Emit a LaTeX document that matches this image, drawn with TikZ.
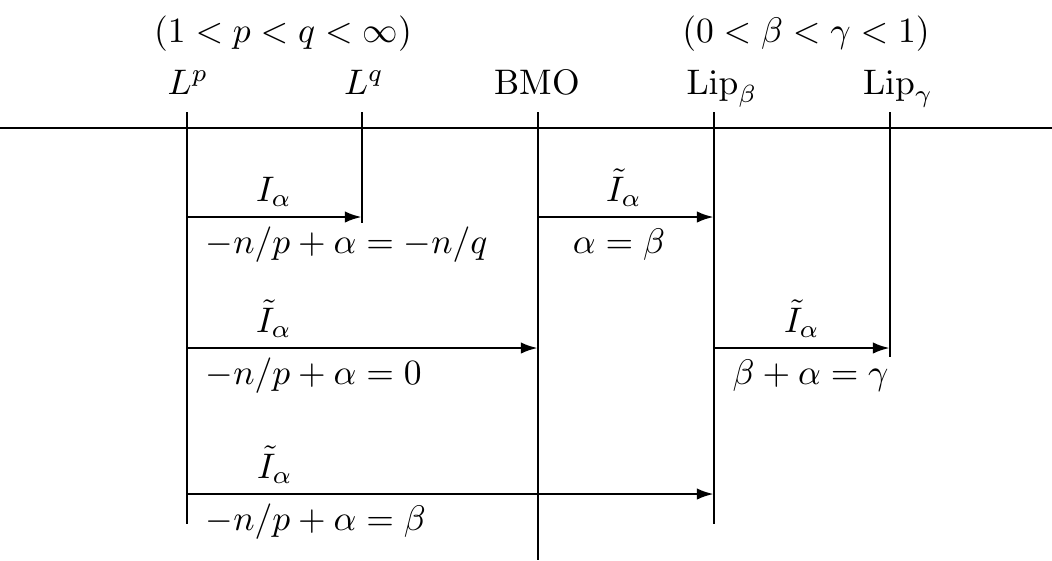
\documentclass[tikz,border=0pt]{standalone}
\usetikzlibrary{arrows.meta}
\begin{document}
\begin{tikzpicture}[x=0.2817pt,y=-0.2817pt,
  axis/.style={line width=0.8pt},
  arr/.style={line width=0.8pt,-{Latex[length=4.8pt,width=3.2pt]}},
  lbl/.style={anchor=base,inner sep=0pt},
  lblw/.style={anchor=base west,inner sep=0pt}]
\useasboundingbox (0,0) rectangle (1052,560);
% horizontal axis
\coordinate (hl) at (0,128);
\coordinate (hr) at (1052,128);
\draw[axis] (hl) -- (hr);
% vertical lines
\coordinate (Lpt) at (187,112);  \coordinate (Lpb) at (187,524);
\coordinate (Lqt) at (362,112);  \coordinate (Lqb) at (362,223);
\coordinate (Bt) at (538,112);   \coordinate (Bb) at (538,560);
\coordinate (Lbt) at (714,112);  \coordinate (Lbb) at (714,524);
\coordinate (Lgt) at (890,112);  \coordinate (Lgb) at (890,357);
\draw[axis] (Lpt) -- (Lpb);
\draw[axis] (Lqt) -- (Lqb);
\draw[axis] (Bt) -- (Bb);
\draw[axis] (Lbt) -- (Lbb);
\draw[axis] (Lgt) -- (Lgb);
% top labels
\node[lbl] (cp) at (283,42) {$(1<p<q<\infty)$};
\node[lbl] (cb) at (806,42) {$(0<\beta<\gamma<1)$};
\node[lbl] (nLp) at (188,94) {$L^p$};
\node[lbl] (nLq) at (364,94) {$L^q$};
\node[lbl] (nB) at (537,94) {BMO};
\node[lbl] (nLb) at (722,94) {$\mathrm{Lip}_\beta$};
\node[lbl] (nLg) at (898,94) {$\mathrm{Lip}_\gamma$};
% row 1
\coordinate (a1) at (187,217); \coordinate (b1) at (362,217);
\draw[arr] (a1) -- (b1);
\node[lbl] (t1) at (274,201) {$I_\alpha$};
\node[lblw] (e1) at (205,253) {$-n/p+\alpha=-n/q$};
\coordinate (c1) at (538,217); \coordinate (d1) at (714,217);
\draw[arr] (c1) -- (d1);
\node[lbl] (t2) at (624,201) {$\tilde I_\alpha$};
\node[lbl] (e2) at (619,253) {$\alpha=\beta$};
% row 2
\coordinate (a2) at (187,348); \coordinate (b2) at (538,348);
\draw[arr] (a2) -- (b2);
\node[lbl] (t3) at (274,332) {$\tilde I_\alpha$};
\node[lblw] (e3) at (205,384) {$-n/p+\alpha=0$};
\coordinate (c2) at (714,348); \coordinate (d2) at (890,348);
\draw[arr] (c2) -- (d2);
\node[lbl] (t4) at (802,332) {$\tilde I_\alpha$};
\node[lblw] (e4) at (732,384) {$\beta+\alpha=\gamma$};
% row 3
\coordinate (a3) at (187,494); \coordinate (b3) at (714,494);
\draw[arr] (a3) -- (b3);
\node[lbl] (t5) at (275,478) {$\tilde I_\alpha$};
\node[lblw] (e5) at (205,530) {$-n/p+\alpha=\beta$};
\end{tikzpicture}
\end{document}
